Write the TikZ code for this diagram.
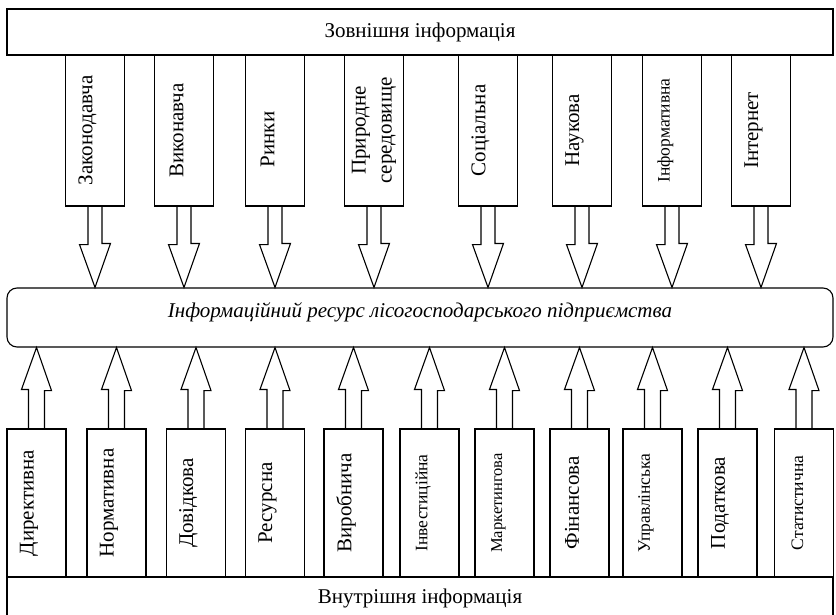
\documentclass[tikz,border=0pt]{standalone}
\usepackage{fontspec}
\setmainfont{Liberation Serif}
\usepackage{tikz}

\begin{document}
\begin{tikzpicture}[x = 1pt, y = -1pt, line width = 1.1pt,
                        box/.style = {draw, minimum width = 826pt, inner sep = 0pt,
                                      font = \fontsize{21}{25}\selectfont},
                        col/.style = {draw, minimum width = 59pt, inner sep = 0pt},
                        lbl/.style = {rotate = 90, inner sep = 0pt,
                                      font = \fontsize{21}{26}\selectfont},
                        sml/.style = {lbl, font = \fontsize{17.5}{20}\selectfont}]
      \useasboundingbox (0, 0) rectangle (836, 615);
      % sources and the resource
      \node [box, minimum height = 46pt] (ext) at (420, 32){Зовнішня інформація};
      \node [box, minimum height = 59pt, rounded corners = 10pt, text depth = 14pt,
             font = \fontsize{21}{25}\selectfont\itshape] (res) at (420, 317.5)
            {Інформаційний ресурс лісогосподарського підприємства};
      \node [box, minimum height = 42pt] (int) at (420, 598){Внутрішня інформація};
      % external kinds
      \node [col, minimum height = 151pt] (z1) at (95, 130.5){};
      \node [col, minimum height = 151pt] (z2) at (184, 130.5){};
      \node [col, minimum height = 151pt] (z3) at (275, 130.5){};
      \node [col, minimum height = 151pt] (z4) at (374, 130.5){};
      \node [col, minimum height = 151pt] (z5) at (488, 130.5){};
      \node [col, minimum height = 151pt] (z6) at (582, 130.5){};
      \node [col, minimum height = 151pt] (z7) at (672, 130.5){};
      \node [col, minimum height = 151pt] (z8) at (761, 130.5){};
      \node [lbl] (tz1) at ([xshift = -7.5pt]z1.center){Законодавча};
      \node [lbl] (tz2) at ([xshift = -7.5pt]z2.center){Виконавча};
      \node [lbl] (tz3) at ([xshift = -7.5pt, yshift = -9pt]z3.center){Ринки};
      \node [lbl, align = center] (tz4) at (z4.center){Природне\\середовище};
      \node [lbl] (tz5) at ([xshift = -7.5pt]z5.center){Соціальна};
      \node [lbl] (tz6) at ([xshift = -7.5pt]z6.center){Наукова};
      \node [sml] (tz7) at ([xshift = -6.5pt]z7.center){Інформативна};
      \node [lbl] (tz8) at ([xshift = -7.5pt]z8.center){Інтернет};
      \draw ([xshift = -7pt]z1.south) -- ++(0, 38) -- ++(-8.5, 0) -- (z1.south |- res.north) -- ++(15.5, -44) -- ++(-8.5, 0) -- ++(0, -38);
      \draw ([xshift = -7pt]z2.south) -- ++(0, 38) -- ++(-8.5, 0) -- (z2.south |- res.north) -- ++(15.5, -44) -- ++(-8.5, 0) -- ++(0, -38);
      \draw ([xshift = -7pt]z3.south) -- ++(0, 38) -- ++(-8.5, 0) -- (z3.south |- res.north) -- ++(15.5, -44) -- ++(-8.5, 0) -- ++(0, -38);
      \draw ([xshift = -7pt]z4.south) -- ++(0, 38) -- ++(-8.5, 0) -- (z4.south |- res.north) -- ++(15.5, -44) -- ++(-8.5, 0) -- ++(0, -38);
      \draw ([xshift = -7pt]z5.south) -- ++(0, 38) -- ++(-8.5, 0) -- (z5.south |- res.north) -- ++(15.5, -44) -- ++(-8.5, 0) -- ++(0, -38);
      \draw ([xshift = -7pt]z6.south) -- ++(0, 38) -- ++(-8.5, 0) -- (z6.south |- res.north) -- ++(15.5, -44) -- ++(-8.5, 0) -- ++(0, -38);
      \draw ([xshift = -7pt]z7.south) -- ++(0, 38) -- ++(-8.5, 0) -- (z7.south |- res.north) -- ++(15.5, -44) -- ++(-8.5, 0) -- ++(0, -38);
      \draw ([xshift = -7pt]z8.south) -- ++(0, 38) -- ++(-8.5, 0) -- (z8.south |- res.north) -- ++(15.5, -44) -- ++(-8.5, 0) -- ++(0, -38);
      % internal kinds
      \node [col, minimum height = 148pt] (v1) at (36.5, 503){};
      \node [col, minimum height = 148pt] (v2) at (116.5, 503){};
      \node [col, minimum height = 148pt] (v3) at (196, 503){};
      \node [col, minimum height = 148pt] (v4) at (275, 503){};
      \node [col, minimum height = 148pt] (v5) at (353.5, 503){};
      \node [col, minimum height = 148pt] (v6) at (429.5, 503){};
      \node [col, minimum height = 148pt] (v7) at (504.5, 503){};
      \node [col, minimum height = 148pt] (v8) at (579.5, 503){};
      \node [col, minimum height = 148pt] (v9) at (652.5, 503){};
      \node [col, minimum height = 148pt] (v10) at (727.5, 503){};
      \node [col, minimum height = 148pt] (v11) at (804, 503){};
      \node [lbl] (tv1) at ([xshift = -7.5pt]v1.center){Директивна};
      \node [lbl] (tv2) at ([xshift = -7.5pt]v2.center){Нормативна};
      \node [lbl] (tv3) at ([xshift = -7.5pt]v3.center){Довідкова};
      \node [lbl] (tv4) at ([xshift = -7.5pt]v4.center){Ресурсна};
      \node [lbl] (tv5) at ([xshift = -7.5pt]v5.center){Виробнича};
      \node [sml] (tv6) at ([xshift = -6.5pt]v6.center){Інвестиційна};
      \node [sml, font = \fontsize{16.5}{20}\selectfont] (tv7) at ([xshift = -6pt]v7.center){Маркетингова};
      \node [lbl] (tv8) at ([xshift = -7.5pt]v8.center){Фінансова};
      \node [sml] (tv9) at ([xshift = -6.5pt]v9.center){Управлінська};
      \node [lbl] (tv10) at ([xshift = -7.5pt]v10.center){Податкова};
      \node [sml] (tv11) at ([xshift = -6.5pt]v11.center){Статистична};
      \draw ([xshift = -8pt]v1.north) -- ++(0, -39) -- ++(-7, 0) -- (v1.north |- res.south) -- ++(15, 43) -- ++(-7, 0) -- ++(0, 39);
      \draw ([xshift = -8pt]v2.north) -- ++(0, -39) -- ++(-7, 0) -- (v2.north |- res.south) -- ++(15, 43) -- ++(-7, 0) -- ++(0, 39);
      \draw ([xshift = -8pt]v3.north) -- ++(0, -39) -- ++(-7, 0) -- (v3.north |- res.south) -- ++(15, 43) -- ++(-7, 0) -- ++(0, 39);
      \draw ([xshift = -8pt]v4.north) -- ++(0, -39) -- ++(-7, 0) -- (v4.north |- res.south) -- ++(15, 43) -- ++(-7, 0) -- ++(0, 39);
      \draw ([xshift = -8pt]v5.north) -- ++(0, -39) -- ++(-7, 0) -- (v5.north |- res.south) -- ++(15, 43) -- ++(-7, 0) -- ++(0, 39);
      \draw ([xshift = -8pt]v6.north) -- ++(0, -39) -- ++(-7, 0) -- (v6.north |- res.south) -- ++(15, 43) -- ++(-7, 0) -- ++(0, 39);
      \draw ([xshift = -8pt]v7.north) -- ++(0, -39) -- ++(-7, 0) -- (v7.north |- res.south) -- ++(15, 43) -- ++(-7, 0) -- ++(0, 39);
      \draw ([xshift = -8pt]v8.north) -- ++(0, -39) -- ++(-7, 0) -- (v8.north |- res.south) -- ++(15, 43) -- ++(-7, 0) -- ++(0, 39);
      \draw ([xshift = -8pt]v9.north) -- ++(0, -39) -- ++(-7, 0) -- (v9.north |- res.south) -- ++(15, 43) -- ++(-7, 0) -- ++(0, 39);
      \draw ([xshift = -8pt]v10.north) -- ++(0, -39) -- ++(-7, 0) -- (v10.north |- res.south) -- ++(15, 43) -- ++(-7, 0) -- ++(0, 39);
      \draw ([xshift = -8pt]v11.north) -- ++(0, -39) -- ++(-7, 0) -- (v11.north |- res.south) -- ++(15, 43) -- ++(-7, 0) -- ++(0, 39);
    \end{tikzpicture}
\end{document}
